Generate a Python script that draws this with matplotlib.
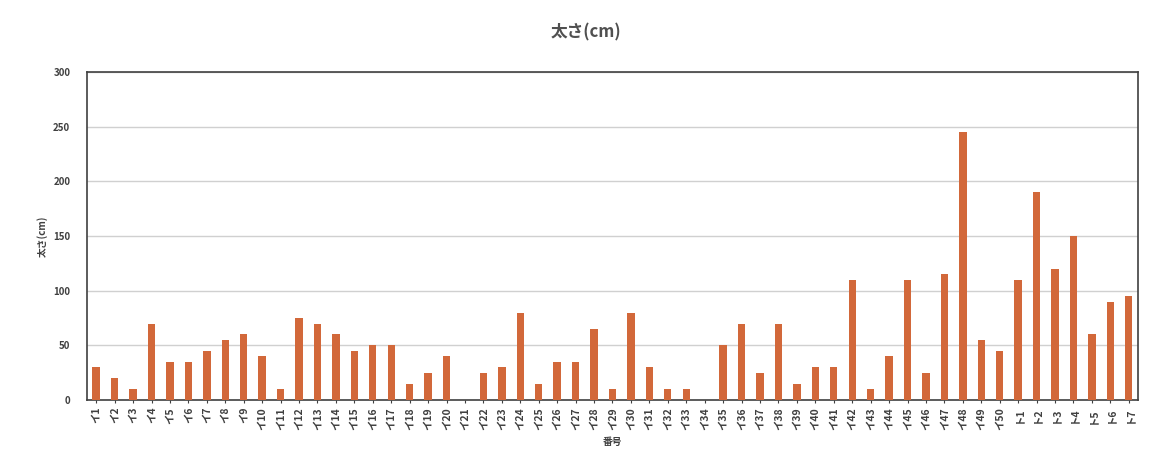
import numpy as np
import matplotlib.pyplot as plt

plt.rcParams['font.family'] = ['Noto Sans CJK JP', 'DejaVu Sans']

# labels: イ1..イ50, ト1..ト7
labels = [f"イ{i}" for i in range(1, 51)] + [f"ト{i}" for i in range(1, 8)]
values = [30, 20, 10, 70, 35, 35, 45, 55, 60, 40,
          10, 75, 70, 60, 45, 50, 50, 15, 25, 40,
          0, 25, 30, 80, 15, 35, 35, 65, 10, 80,
          30, 10, 10, 0, 50, 70, 25, 70, 15, 30,
          30, 110, 10, 40, 110, 25, 115, 245, 55, 45,
          110, 190, 120, 150, 60, 90, 95]
yticks = [0, 50, 100, 150, 200, 250, 300]

fig = plt.figure(figsize=(11.72, 4.5), dpi=100)
ax = fig.add_axes([0.0742, 0.111, 0.8968, 0.729])

x = np.arange(len(labels))
ax.bar(x, values, width=0.4, color="#d2683a", zorder=3)

ax.set_xlim(-0.5, len(labels) - 0.5)
ax.set_ylim(0, 300)
ax.set_yticks(yticks)
ax.set_xticks(x)
ax.set_xticklabels(labels, rotation=90, fontsize=7.5, color="#404040", fontweight="bold")
ax.tick_params(axis="y", length=0, labelsize=7, labelcolor="#404040", pad=12)
ax.tick_params(axis="x", length=2, color="#404040", pad=3)
for lab in ax.get_yticklabels():
    lab.set_fontweight("bold")

ax.grid(axis="y", color="#d0d0d0", linewidth=1, zorder=0)
for s in ax.spines.values():
    s.set_color("#404040")
    s.set_linewidth(1.2)

ax.set_ylabel("太さ(cm)", fontsize=7, color="#404040", fontweight="bold", labelpad=4)
ax.set_xlabel("番号", fontsize=7, color="#404040", fontweight="bold", labelpad=5)
fig.text(0.5, 0.928, "太さ(cm)", ha="center", va="center", fontsize=12,
         color="#505050", fontweight="bold")

fig.savefig("out.png", dpi=100)
